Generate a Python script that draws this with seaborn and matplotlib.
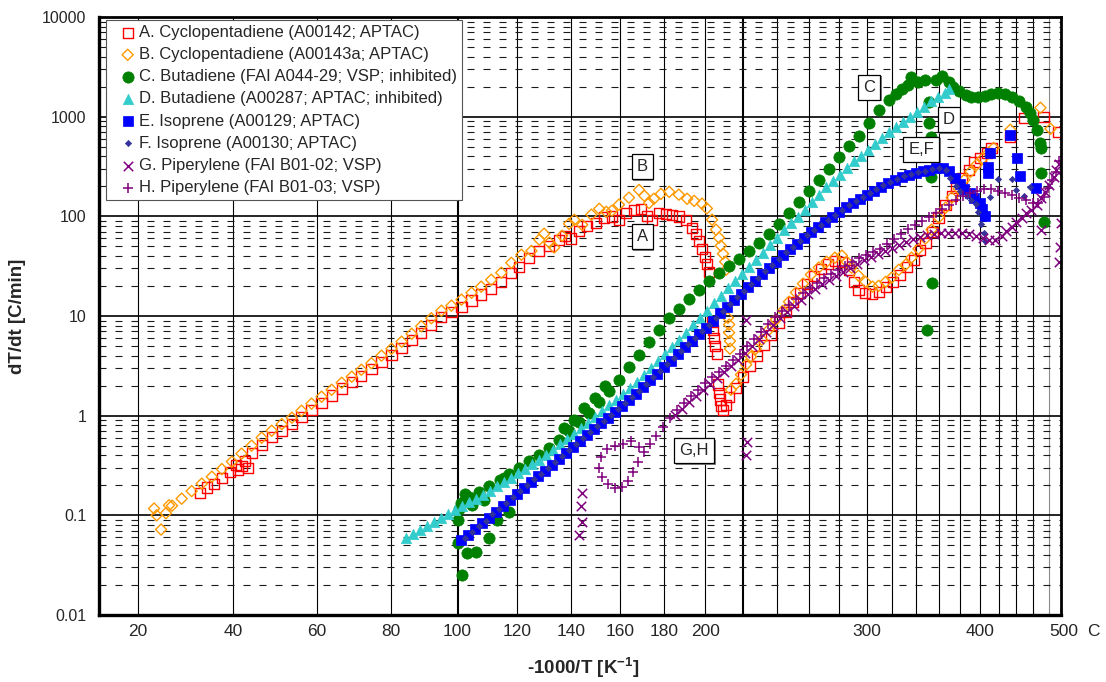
import numpy as np
import pandas as pd
import matplotlib
matplotlib.use("Agg")
import matplotlib.pyplot as plt
import matplotlib.transforms as mtrans
from matplotlib import patheffects as pe
from matplotlib.ticker import LogLocator, NullFormatter
import seaborn as sns

# ---------------- data: x = -1000/T [1/K], y = dT/dt [C/min] ----------------
A_x = [-3.269, -3.253, -3.237, -3.219, -3.201, -3.187, -3.183, -3.174, -3.167, -3.160,
       -3.151, -3.128, -3.105, -3.082, -3.059, -3.037, -3.014, -2.991, -2.968, -2.945,
       -2.922, -2.900, -2.877, -2.854, -2.831, -2.808, -2.785, -2.763, -2.740, -2.717,
       -2.694, -2.671, -2.648, -2.626, -2.603, -2.580, -2.557,
       -2.539, -2.516, -2.493, -2.470, -2.448, -2.434, -2.420, -2.402, -2.384, -2.363,
       -2.345, -2.327, -2.311, -2.295, -2.277, -2.261, -2.247, -2.236, -2.220, -2.204,
       -2.190, -2.174, -2.158, -2.144, -2.135, -2.128, -2.121, -2.114, -2.110, -2.105,
       -2.098, -2.096, -2.094, -2.091, -2.087, -2.084, -2.082, -2.080, -2.078, -2.073, -2.066,
       -2.059, -2.043, -2.027, -2.011, -1.995, -1.979, -1.963, -1.944, -1.928, -1.912,
       -1.896, -1.880, -1.864, -1.848, -1.832, -1.817, -1.801, -1.785, -1.774, -1.763,
       -1.749, -1.733, -1.717, -1.701, -1.685, -1.669, -1.653, -1.637, -1.623, -1.610,
       -1.594, -1.580, -1.564, -1.550, -1.539, -1.527, -1.511, -1.498, -1.484, -1.470, -1.459,
       -1.416, -1.384, -1.340, -1.306]
A_y = [0.169, 0.19, 0.208, 0.239, 0.274, 0.322, 0.288, 0.315, 0.354, 0.30,
       0.425, 0.512, 0.615, 0.707, 0.831, 0.977, 1.15, 1.35, 1.59, 1.87,
       2.19, 2.52, 2.96, 3.48, 4.09, 4.81, 5.79, 6.80, 8.18, 9.84,
       11.0, 12.4, 14.3, 16.4, 18.8, 22.0, 27.2,
       31.3, 38.5, 45.0, 50.6, 58.3, 63.9, 59.8, 71.8, 80.6, 86.4,
       97.3, 99.5, 92.5, 109, 116, 119, 101, 92.5, 109, 106,
       104, 99.5, 92.5, 77.0, 66.8, 57.0, 47.2, 39.4, 33.5, 27.8,
       8.77, 7.29, 6.05, 5.03, 4.19, 2.05, 1.70, 1.45, 1.26, 1.15, 1.29,
       1.55, 1.91, 2.46, 3.17, 4.0, 5.15, 6.5, 8.6, 11.0, 13.9,
       17.1, 21.1, 25.4, 29.7, 33.5, 35.9, 35.0, 29.1, 22.0, 18.4,
       17.1, 16.7, 17.5, 19.7, 22.0, 26.0, 31.3, 36.7, 46.1, 54.5,
       70.2, 97.3, 131, 161, 193, 243, 294, 348, 386, 434, 486,
       630, 972, 995, 705]

B_x = [-3.374, -3.368, -3.358, -3.347, -3.340,
       -3.333, -3.311, -3.288, -3.265, -3.242, -3.219, -3.196, -3.174, -3.151, -3.128,
       -3.105, -3.082, -3.059, -3.037, -3.014, -2.991, -2.968, -2.945, -2.922, -2.900,
       -2.877, -2.854, -2.831, -2.808, -2.785, -2.763, -2.740, -2.717,
       -2.694, -2.671, -2.648, -2.626, -2.603, -2.580, -2.557, -2.534, -2.511,
       -2.493, -2.482, -2.470, -2.459, -2.441, -2.425, -2.413, -2.395, -2.374, -2.356,
       -2.340, -2.327, -2.311, -2.288, -2.265, -2.253, -2.242, -2.231, -2.215, -2.196,
       -2.174, -2.155, -2.139, -2.121, -2.110, -2.098, -2.089, -2.082, -2.078, -2.073,
       -2.068, -2.066,
       -2.062, -2.059, -2.059, -2.057, -2.057,
       -2.055, -2.043, -2.032, -2.020, -2.009, -1.998, -1.984, -1.968, -1.952, -1.936,
       -1.922, -1.906, -1.890, -1.872, -1.854, -1.836, -1.817, -1.801, -1.790, -1.779,
       -1.763, -1.747, -1.731, -1.717, -1.701, -1.687, -1.671, -1.655, -1.642, -1.626,
       -1.610, -1.596, -1.580, -1.564, -1.550, -1.534, -1.521, -1.507, -1.493, -1.479,
       -1.466, -1.454,
       -1.416, -1.347, -1.324]
B_y = [0.117, 0.100, 0.072, 0.105, 0.126,
       0.125, 0.147, 0.175, 0.208, 0.244, 0.291, 0.346, 0.416, 0.50, 0.601,
       0.707, 0.822, 0.955, 1.12, 1.32, 1.55, 1.82, 2.14, 2.46, 2.89,
       3.36, 4.0, 4.69, 5.53, 6.63, 7.9, 9.5, 11.3,
       12.7, 14.6, 17.1, 19.7, 23.1, 27.2, 34.2, 41.2, 45.0,
       58.3, 66.9, 54.5, 48.7, 63.9, 84.2, 92.4, 82.2, 104, 119,
       111, 114, 131, 154, 184, 161, 136, 150, 168, 176,
       165, 150, 143, 134, 120, 92.5, 73.5, 61.0, 50.7, 42.1,
       35.0, 29.1,
       9.6, 8.2, 6.8, 5.6, 4.7,
       1.82, 2.09, 2.58, 3.25, 3.90, 4.69, 5.79, 7.29, 9.18, 11.3,
       13.9, 17.2, 21.1, 26.0, 30.6, 35.0, 38.5, 40.3, 35.0, 30.6,
       25.4, 22.0, 19.7, 20.1, 22.0, 24.3, 29.1, 32.8, 38.5, 47.2,
       59.8, 73.5, 97.3, 122, 154, 189, 233, 280, 330, 380,
       434, 486,
       739, 1228, 756]

C_x = [-2.671, -2.653, -2.630, -2.607, -2.584, -2.562, -2.539, -2.516, -2.493, -2.470,
       -2.448, -2.425, -2.402, -2.379, -2.356, -2.333, -2.311, -2.288, -2.265, -2.242,
       -2.220, -2.196, -2.174, -2.151, -2.128, -2.105, -2.082, -2.059, -2.037, -2.014,
       -1.991, -1.968, -1.945, -1.922, -1.900, -1.877, -1.854, -1.831, -1.808, -1.785,
       -1.763, -1.740, -1.717, -1.694,
       -1.678, -1.664, -1.650, -1.642,
       -1.626, -1.610, -1.587, -1.573, -1.557, -1.546, -1.534, -1.518, -1.505, -1.489,
       -1.473, -1.459, -1.443, -1.427, -1.413, -1.397, -1.381, -1.372, -1.363, -1.354,
       -1.347, -1.345,
       -2.680, -2.676, -2.662, -2.646, -2.619, -2.573, -2.436, -2.413, -2.390, -2.365, -2.342,
       -2.669, -2.680, -2.658, -2.637, -2.607, -2.589, -2.562,
       -1.603, -1.603, -1.598, -1.598, -1.596, -1.607, -1.345, -1.338]
C_y = [0.134, 0.151, 0.173, 0.199, 0.228, 0.262, 0.301, 0.354, 0.406, 0.478,
       0.574, 0.707, 0.871, 1.07, 1.38, 1.78, 2.30, 3.10, 4.09, 5.53,
       7.29, 9.63, 11.8, 14.9, 18.4, 22.6, 27.2, 31.9, 37.6, 45.0,
       54.5, 66.9, 84.2, 108, 139, 181, 233, 300, 398, 509,
       643, 870, 1170, 1475,
       1700, 1910, 2090, 2500,
       2240, 2340, 2340, 2570, 2240, 2000, 1820, 1660, 1585, 1585,
       1620, 1700, 1740, 1700, 1585, 1445, 1256, 1094, 931, 740,
       547, 488,
       0.0906, 0.115, 0.165, 0.128, 0.144, 0.239, 0.758, 0.912, 1.20, 1.52, 2.0,
       0.0254, 0.0532, 0.0423, 0.0433, 0.0596, 0.0906, 0.109,
       1410, 870, 630, 250, 21.6, 7.3, 272, 88]

D_x = [-2.797, -2.781, -2.765, -2.749, -2.733, -2.717, -2.701, -2.685, -2.669, -2.653,
       -2.637, -2.621, -2.605, -2.589, -2.573, -2.557, -2.541, -2.525, -2.509, -2.493,
       -2.477, -2.461, -2.445, -2.429, -2.413, -2.397, -2.381, -2.365, -2.349, -2.333,
       -2.317, -2.301, -2.285, -2.269, -2.253, -2.238, -2.222, -2.206, -2.190, -2.174,
       -2.158, -2.142, -2.126, -2.110, -2.094, -2.078, -2.062, -2.046, -2.030, -2.014,
       -1.998, -1.982, -1.966, -1.950, -1.934, -1.918, -1.902, -1.886, -1.870, -1.854,
       -1.838, -1.822, -1.806, -1.790, -1.774, -1.758, -1.742, -1.726, -1.710, -1.694,
       -1.678, -1.662, -1.646, -1.630, -1.614, -1.598, -1.582, -1.566, -1.555]
D_y = [0.0597, 0.0655, 0.0719, 0.0788, 0.0865, 0.0948, 0.104, 0.114, 0.125, 0.137,
       0.147, 0.161, 0.177, 0.199, 0.218, 0.239, 0.268, 0.294, 0.330, 0.362,
       0.406, 0.456, 0.524, 0.588, 0.660, 0.758, 0.851, 0.977, 1.12, 1.29,
       1.45, 1.66, 1.91, 2.19, 2.58, 3.03, 3.56, 4.19, 4.93, 5.79,
       6.80, 8.18, 9.63, 11.3, 13.6, 16.0, 19.2, 22.6, 26.5, 31.2,
       36.7, 43.1, 51.9, 61.0, 73.5, 86.4, 99.5, 117, 139, 165,
       198, 228, 262, 308, 355, 407, 465, 536, 615, 705,
       794, 891, 995, 1120, 1260, 1420, 1590, 1740, 1910]

E_x = [-2.671, -2.655, -2.639, -2.623, -2.607, -2.591, -2.575, -2.559, -2.543, -2.527,
       -2.511, -2.495, -2.480, -2.464, -2.448, -2.432, -2.416, -2.400, -2.384, -2.368,
       -2.352, -2.336, -2.320, -2.304, -2.288, -2.272, -2.256, -2.240, -2.224, -2.208,
       -2.192, -2.176, -2.160, -2.144, -2.128, -2.112, -2.096, -2.080, -2.064, -2.048,
       -2.032, -2.016, -2.000, -1.984, -1.968, -1.952, -1.936, -1.920, -1.904, -1.888,
       -1.872, -1.856, -1.840, -1.824, -1.808, -1.792, -1.776, -1.760, -1.744, -1.728,
       -1.712, -1.696, -1.680, -1.664, -1.648, -1.632, -1.616, -1.601, -1.585, -1.569,
       -1.555, -1.543, -1.532, -1.521, -1.509, -1.498, -1.486, -1.480, -1.473,
       -1.462, -1.466, -1.466, -1.416, -1.400, -1.393, -1.358]
E_y = [0.0571, 0.0640, 0.0736, 0.0845, 0.0948, 0.109, 0.125, 0.144, 0.165, 0.190,
       0.218, 0.250, 0.281, 0.323, 0.370, 0.426, 0.489, 0.561, 0.645, 0.741,
       0.851, 0.955, 1.10, 1.26, 1.45, 1.66, 1.95, 2.30, 2.64, 3.10,
       3.56, 4.19, 4.93, 5.66, 6.65, 7.63, 8.98, 10.6, 12.4, 14.6,
       16.7, 19.7, 22.6, 26.5, 30.5, 35.0, 41.1, 47.2, 53.1, 61.0,
       70.2, 78.6, 88.2, 99.5, 111, 125, 137, 150, 165, 181,
       198, 218, 233, 250, 262, 275, 288, 294, 308, 308,
       288, 242, 212, 189, 172, 153, 137, 119, 101,
       434, 314, 272, 658, 386, 255, 194]

F_x = [-2.664, -2.648, -2.632, -2.616, -2.601, -2.585, -2.569, -2.553, -2.537, -2.521,
       -2.505, -2.489, -2.473, -2.457, -2.441, -2.425, -2.409, -2.393, -2.377, -2.361,
       -2.345, -2.329, -2.313, -2.297, -2.281, -2.265, -2.249, -2.233, -2.217, -2.201,
       -2.185, -2.169, -2.153, -2.137, -2.121, -2.105, -2.089, -2.073, -2.057, -2.041,
       -2.025, -2.009, -1.993, -1.977, -1.961, -1.945, -1.929, -1.913, -1.897, -1.881,
       -1.865, -1.849, -1.833, -1.817, -1.801, -1.785, -1.769, -1.753, -1.737, -1.722,
       -1.706, -1.690, -1.674, -1.658, -1.642, -1.626, -1.610, -1.594, -1.578,
       -1.564, -1.553, -1.541, -1.530, -1.516, -1.505, -1.495, -1.489, -1.482, -1.477, -1.473,
       -1.462, -1.443, -1.413, -1.402, -1.384, -1.370]
F_y = [0.0597, 0.0686, 0.0788, 0.0885, 0.102, 0.117, 0.134, 0.154, 0.177, 0.203,
       0.233, 0.262, 0.301, 0.346, 0.397, 0.456, 0.524, 0.602, 0.691, 0.794,
       0.891, 1.02, 1.18, 1.35, 1.55, 1.78, 2.09, 2.46, 2.83, 3.32,
       3.82, 4.49, 5.28, 6.06, 7.12, 8.18, 9.63, 11.3, 13.3, 15.6,
       18.0, 21.1, 24.3, 28.6, 32.8, 37.6, 44.1, 49.6, 57.0, 65.4,
       73.5, 82.5, 92.5, 104, 116, 131, 143, 157, 172, 189,
       208, 222, 238, 255, 268, 281, 288, 301, 308,
       294, 243, 203, 181, 161, 147, 134, 111, 84.2, 68.5, 57.0,
       157, 238, 238, 185, 161, 198]

G_x = [-2.183, -2.167, -2.151, -2.135, -2.119, -2.103, -2.087, -2.071, -2.055, -2.039,
       -2.023, -2.007, -1.991, -1.975, -1.959, -1.943, -1.927, -1.911, -1.895, -1.879,
       -1.863, -1.847, -1.831, -1.815, -1.799, -1.783, -1.767, -1.751, -1.735, -1.719,
       -1.703, -1.687, -1.671, -1.655, -1.639, -1.623, -1.607, -1.591, -1.575,
       -1.559, -1.543, -1.527, -1.511, -1.495, -1.479, -1.464, -1.450, -1.436, -1.425,
       -1.413, -1.402, -1.390, -1.379, -1.368, -1.356, -1.345, -1.336, -1.327, -1.317,
       -1.311, -1.304,
       -2.395, -2.397, -2.395, -2.402, -2.020, -2.018, -2.020, -1.301, -1.302, -1.345, -1.304]
G_y = [1.02, 1.18, 1.38, 1.59, 1.82, 2.09, 2.40, 2.76, 3.17, 3.65,
       4.28, 5.03, 5.92, 6.96, 8.18, 9.63, 11.0, 12.7, 14.6, 16.7,
       18.8, 21.1, 23.1, 25.4, 27.8, 30.5, 33.5, 36.7, 39.4, 42.1,
       45.0, 48.4, 51.9, 55.7, 59.7, 62.6, 65.4, 66.9, 68.5,
       68.5, 68.5, 68.5, 66.9, 63.9, 61.0, 58.3, 58.3, 63.9, 71.8,
       78.6, 88.2, 97.3, 107, 116, 131, 154, 177, 207, 250,
       294, 336,
       0.169, 0.125, 0.0865, 0.064, 9.18, 0.549, 0.406, 86.4, 49.6, 73.5, 35.0]

H_x = [-2.265, -2.283, -2.301, -2.320, -2.338, -2.352, -2.356, -2.349, -2.336, -2.320,
       -2.304, -2.290, -2.279, -2.267,
       -2.253, -2.240, -2.226, -2.210, -2.194, -2.178, -2.162, -2.146, -2.130, -2.114,
       -2.098, -2.082, -2.066, -2.050, -2.034, -2.018, -2.002, -1.986, -1.970, -1.954,
       -1.938, -1.922, -1.906, -1.890, -1.874, -1.858, -1.842, -1.826, -1.810, -1.795,
       -1.779, -1.763, -1.747, -1.731, -1.715,
       -1.699, -1.683, -1.667, -1.651, -1.635, -1.619, -1.603, -1.587, -1.571, -1.555,
       -1.539, -1.523, -1.507, -1.491, -1.475, -1.459, -1.443, -1.427, -1.411, -1.395,
       -1.379,
       -1.365, -1.352, -1.340, -1.329, -1.320, -1.311, -1.304]
H_y = [0.489, 0.561, 0.524, 0.50, 0.467, 0.388, 0.301, 0.244, 0.208, 0.190,
       0.194, 0.223, 0.274, 0.346,
       0.436, 0.524, 0.630, 0.776, 0.955, 1.15, 1.35, 1.59, 1.82, 2.14,
       2.46, 2.76, 3.17, 3.65, 4.19, 5.03, 5.92, 6.96, 8.38, 9.84,
       11.3, 13.0, 14.9, 17.1, 19.2, 21.6, 24.3, 26.5, 29.1, 31.9,
       35.0, 38.5, 41.2, 44.1, 47.2,
       53.1, 59.7, 66.9, 75.2, 82.5, 90.5, 99.5, 109, 119, 131,
       147, 161, 172, 181, 189, 189, 181, 172, 165, 154,
       147,
       137, 137, 157, 194, 233, 280, 355]

series_labels = ["A. Cyclopentadiene (A00142; APTAC)",
                 "B. Cyclopentadiene (A00143a; APTAC)",
                 "C. Butadiene (FAI A044-29; VSP; inhibited)",
                 "D. Butadiene (A00287; APTAC; inhibited)",
                 "E. Isoprene (A00129; APTAC)",
                 "F. Isoprene (A00130; APTAC)",
                 "G. Piperylene (FAI B01-02; VSP)",
                 "H. Piperylene (FAI B01-03; VSP)"]

# temperature grid / tick labels (deg C)
grid_C = [20, 40, 60, 80, 100, 120, 140, 160, 180, 200, 220, 240, 260, 280, 300,
          320, 340, 360, 380, 400, 420, 440, 460, 480]
label_C = [20, 40, 60, 80, 100, 120, 140, 160, 180, 200, 300, 400, 500]
y_ticks = [0.01, 0.1, 1, 10, 100, 1000, 10000]
y_tick_labels = ["0.01", "0.1", "1", "10", "100", "1000", "10000"]

annot_text = ["A", "B", "C", "D", "E,F", "G,H"]
annot_x = [-2.258, -2.258, -1.738, -1.557, -1.620, -2.139]
annot_y = [62.9, 317, 1982, 931, 473, 0.446]

# ---------------- styling ----------------
sns.set_style("white")
plt.rcParams["font.family"] = ["Liberation Sans", "DejaVu Sans"]
plt.rcParams["mathtext.fontset"] = "custom"
plt.rcParams["mathtext.rm"] = "Liberation Sans"
plt.rcParams["mathtext.bf"] = "Liberation Sans:bold"

W, H = 1106, 682
fig = plt.figure(figsize=(W / 100, H / 100), dpi=100)
ax = fig.add_axes([99 / W, 1 - 615 / H, 962 / W, 598 / H])
ax.set_yscale("log")
ax.set_xlim(-3.5, -1.3)
ax.set_ylim(0.01, 10000)

# vertical temperature gridlines
for c in grid_C:
    xv = -1000.0 / (c + 273.15)
    lw = 1.5 if c in (100, 220) else 0.8
    col = "#8a8a8a" if c == 480 else "black"
    ax.axvline(xv, color=col, lw=lw, zorder=1)
# horizontal gridlines
for d in y_ticks[1:-1]:
    ax.axhline(d, color="black", lw=1.2, zorder=1)
for d in y_ticks[:-1]:
    for m in range(2, 10):
        ax.axhline(d * m, color="#1a1a1a", lw=0.8, ls=(0, (6.3, 8.1)), zorder=1)

styles = [
    (A_x, A_y, "s", "#FF0000", True, 54, 1.0),
    (B_x, B_y, "D", "#FF9900", True, 32, 1.0),
    (C_x, C_y, "o", "#008000", False, 66, 0.5),
    (D_x, D_y, "^", "#33CCCC", False, 56, 0.5),
    (E_x, E_y, "s", "#0000FF", False, 42, 0.5),
    (F_x, F_y, "D", "#333399", False, 10, 0.5),
    (G_x, G_y, "x", "#800080", None, 46, 1.1),
    (H_x, H_y, "+", "#800080", None, 54, 1.1),
]
for (xs, ys, mk, col, hollow, s, lw), lab in zip(styles, series_labels):
    df = pd.DataFrame({"x": xs, "y": ys})
    if hollow is None:
        sns.scatterplot(data=df, x="x", y="y", ax=ax, marker=mk, s=s, color=col,
                        linewidth=lw, label=lab, zorder=3)
    elif hollow:
        sns.scatterplot(data=df, x="x", y="y", ax=ax, marker=mk, s=s, color=col,
                        facecolor="none", edgecolor=col, linewidth=lw, label=lab, zorder=3)
    else:
        sns.scatterplot(data=df, x="x", y="y", ax=ax, marker=mk, s=s, color=col,
                        edgecolor=col, linewidth=lw, label=lab, zorder=3)

ax.set_xlabel("")
ax.set_ylabel("")

# axes / ticks
ax.set_xticks([-3.5, -3.0, -2.5, -2.0, -1.5])
ax.set_xticklabels([])
ax.tick_params(axis="x", direction="out", length=4, width=1, color="black")
ax.set_yticks(y_ticks)
ax.set_yticklabels(y_tick_labels, fontsize=11.5)
ax.yaxis.set_minor_locator(LogLocator(base=10, subs=range(2, 10), numticks=20))
ax.yaxis.set_minor_formatter(NullFormatter())
ax.tick_params(axis="y", which="major", direction="out", length=6, width=1.2, color="black", pad=3)
ax.tick_params(axis="y", which="minor", direction="out", length=4, width=0.8, color="black")
for side, lw in (("left", 2.4), ("bottom", 2.4), ("top", 2.0), ("right", 2.0)):
    ax.spines[side].set_linewidth(lw)
    ax.spines[side].set_color("black")
    ax.spines[side].set_zorder(4)

# Celsius labels under the -1000/T axis
trans = mtrans.blended_transform_factory(ax.transData, ax.transAxes)
for c in label_C:
    ax.text(-1000.0 / (c + 273.15), -0.027, str(c), transform=trans, ha="center",
            va="center", fontsize=12.5, clip_on=False)
ax.text((1093 - 99) / 962, -0.027, "C", transform=ax.transAxes, ha="center",
        va="center", fontsize=12.5, clip_on=False)

fig.text(583 / W, 1 - 668 / H, r"-1000/T [K$^{\mathbf{-1}}$]", ha="center", va="center",
         fontsize=13.5, fontweight="bold")
fig.text(18 / W, 1 - 316 / H, "dT/dt [C/min]", ha="center", va="center", rotation=90,
         fontsize=13.5, fontweight="bold")

# boxed series labels
for t, xv, yv in zip(annot_text, annot_x, annot_y):
    tx = ax.text(xv, yv, t, ha="center", va="center", fontsize=12, zorder=6,
                 bbox=dict(boxstyle="square,pad=0.3", fc="white", ec="black", lw=0.9))
    tx.get_bbox_patch().set_path_effects(
        [pe.SimplePatchShadow(offset=(1.2, -1.2), shadow_rgbFace="0.45", alpha=0.9), pe.Normal()])

leg = ax.legend(loc="upper left", bbox_to_anchor=(7 / 962, 1 - 3 / 598), fontsize=12,
                frameon=True, fancybox=False, framealpha=1, edgecolor="#555555",
                borderpad=0.3, handletextpad=-0.32, handlelength=2.0, labelspacing=0.43,
                borderaxespad=0, scatterpoints=1)
leg.get_frame().set_linewidth(0.8)
leg.set_zorder(7)

fig.savefig("out.png", dpi=100)
